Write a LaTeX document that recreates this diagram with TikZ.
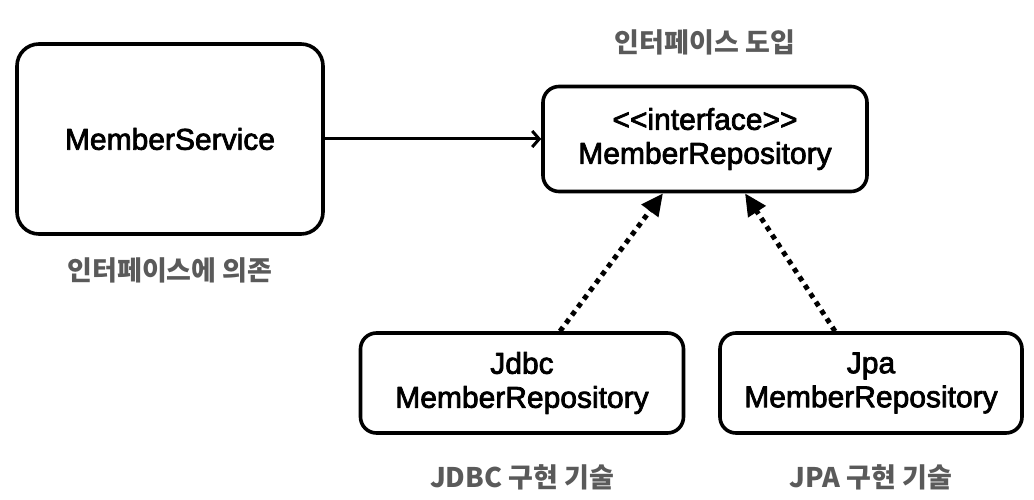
\documentclass[tikz,border=0pt]{standalone}
\usepackage{fontspec}
\setmainfont{Liberation Sans}[FakeBold=2.5]
\newfontfamily\kofont{Noto Sans CJK KR}
\usetikzlibrary{arrows.meta}
\definecolor{lblgray}{HTML}{5A5A5A}
\begin{document}
\begin{tikzpicture}[line join=round, line cap=round,>=stealth,thick,x=1pt,y=-1pt]
			\tikzset{box/.style={draw,line width=3.6pt,rounded corners=16pt,align=center,font=\fontsize{30}{34}\selectfont},
				lbl/.style={text=lblgray,font=\kofont\bfseries\fontsize{27}{30}\selectfont},
				impl/.style={line width=5pt,line cap=butt,dash pattern=on 5pt off 5pt,-{Triangle[length=22pt,width=20pt]}}}
			\useasboundingbox (0,0) rectangle (1034,500);
			\node[box,rounded corners=22pt,minimum width=306,minimum height=190] (service) at (170,139) {MemberService};
			\node[box,minimum width=324,minimum height=105] (iface) at (705,139) {\mbox{<}\mbox{<}interface\mbox{>}\mbox{>}\\MemberRepository};
			\node[box,minimum width=323,minimum height=100] (jdbc) at (522,383) {Jdbc\\MemberRepository};
			\node[box,minimum width=302,minimum height=100] (jpa) at (871,383) {Jpa\\MemberRepository};
			\path
			(705,42) node[lbl] (title) {인터페이스 도입}
			(170,270) node[lbl] (dep) {인터페이스에 의존}
			(522,477) node[lbl] (jdbclbl) {JDBC 구현 기술}
			(871,477) node[lbl] (jpalbl) {JPA 구현 기술}
			;
			\draw[line width=3pt,-{Straight Barb[length=7pt,width=16pt]}] (service) -- (iface);
			\draw[impl] ([xshift=38pt]jdbc.north) -- ([xshift=-42pt]iface.south);
			\draw[impl] ([xshift=-36pt]jpa.north) -- ([xshift=40pt]iface.south);
		\end{tikzpicture}
\end{document}
